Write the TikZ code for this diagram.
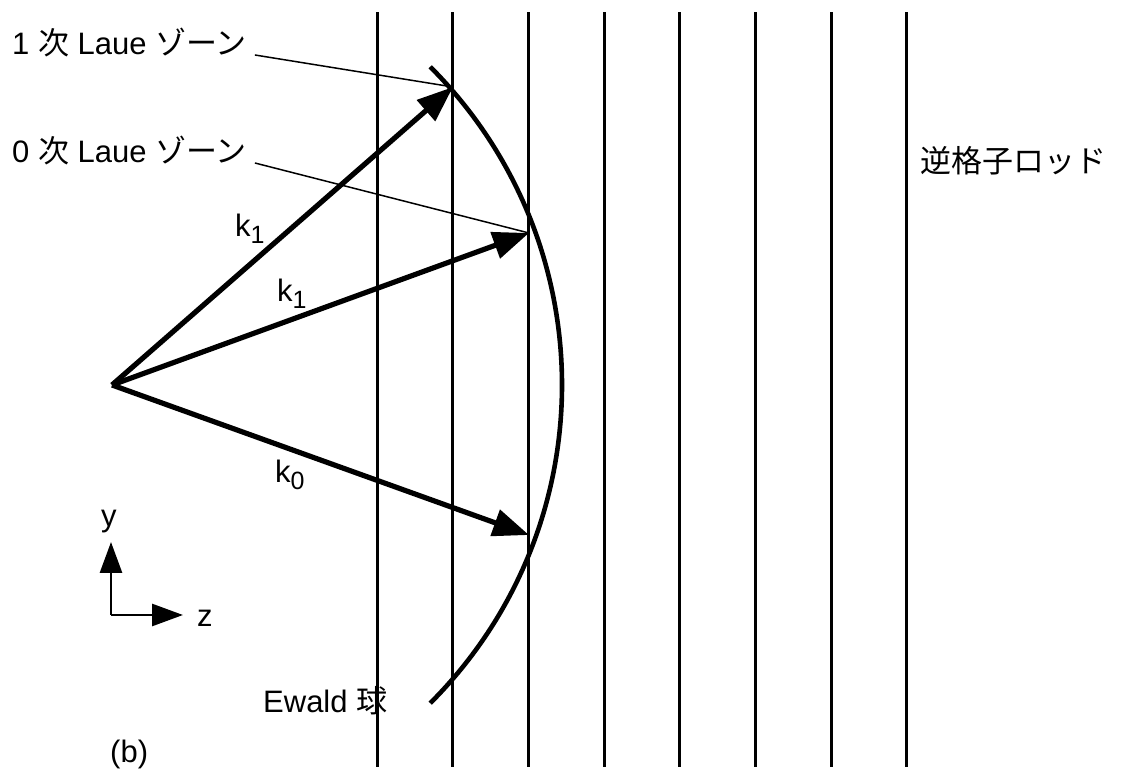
\documentclass[tikz,border=0pt]{standalone}
\usepackage{fontspec}
\setmainfont{Liberation Sans}
\newfontfamily\jpfont{Noto Sans CJK JP}
\usetikzlibrary{arrows.meta, positioning, calc}

\newcommand{\ksub}[1]{k\raisebox{-7pt}{\fontsize{25}{25}\selectfont #1}}

\begin{document}
\begin{tikzpicture}[x=1pt, y=1pt, font=\fontsize{31}{37}\selectfont,
                    rod/.style={line width=3pt},
                    wavevec/.style={line width=5.2pt, -{Triangle[length=36pt, width=27pt]}},
                    axisarrow/.style={line width=2.8pt, -{Triangle[length=31pt, width=22pt]}},
                    leader/.style={line width=1.5pt},
                    lbl/.style={inner sep=0pt, anchor=base west}]
                \useasboundingbox (0,0) rectangle (1127,773);

                % Reciprocal lattice rods
                \foreach \i in {0,...,7} {
                    \draw[rod] ({377+\i*75.7},6) -- ({377+\i*75.7},761);
                }

                % Ewald sphere around the origin of the wave vectors
                \coordinate (O) at (112,388);
                \draw[line width=4.6pt] ($(O)+(45:450)$) arc (45:-45:450);

                % Ends of the wave vectors
                \coordinate (tip1) at (453,686);
                \coordinate (tip0) at (529,540);
                \coordinate (tipk) at (529,238);
                \draw[wavevec] (O) -- (tip1);
                \draw[wavevec] (O) -- (tip0);
                \draw[wavevec] (O) -- (tipk);
                \node[lbl] (kup) at (235,536) {\ksub{1}};
                \node[lbl] (kmid) at (277,471) {\ksub{1}};
                \node[lbl] (kzero) at (275,290) {\ksub{0}};

                % Laue zone labels with leader lines
                \node[lbl] (laue1) at (12,718) {1 {\jpfont 次} Laue {\jpfont ゾーン}};
                \node[lbl] (laue0) at (12,610) {0 {\jpfont 次} Laue {\jpfont ゾーン}};
                \draw[leader] ([xshift=8pt]laue1.base east) -- (tip1);
                \draw[leader] ([xshift=8pt]laue0.base east) -- (tip0);

                \node[lbl] (rods) at (920,600) {{\jpfont 逆格子ロッド}};
                \node[lbl] (ewald) at (263,60) {Ewald {\jpfont 球}};
                \node[lbl] (panel) at (110,10) {(b)};

                % Coordinate axes
                \coordinate (ax) at (111,158);
                \coordinate (ayend) at (111,231);
                \coordinate (azend) at (183,158);
                \draw[axisarrow] (ax) -- (ayend);
                \draw[axisarrow] (ax) -- (azend);
                \node[lbl] (ylab) at (101,246) {y};
                \node[lbl] (zlab) at (197,146) {z};
            \end{tikzpicture}
\end{document}
